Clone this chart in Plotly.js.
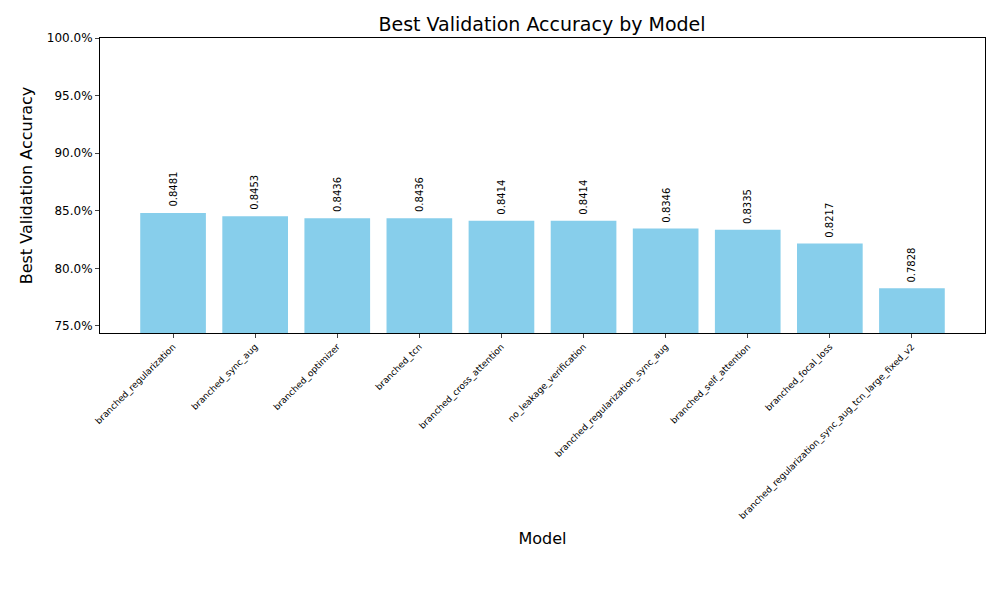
<!DOCTYPE html>
<html>
<head>
<script src="https://cdn.plot.ly/plotly-3.0.1.min.js"></script>
<style>body{margin:0}</style>
</head>
<body>
<div id="chart" style="width:1000px;height:600px"></div>
<script>
const models = ['branched_regularization', 'branched_sync_aug', 'branched_optimizer', 'branched_tcn',
  'branched_cross_attention', 'no_leakage_verification', 'branched_regularization_sync_aug',
  'branched_self_attention', 'branched_focal_loss', 'branched_regularization_sync_aug_tcn_large_fixed_v2'];
const accuracy = [0.8481, 0.8453, 0.8436, 0.8436, 0.8414, 0.8414, 0.8346, 0.8335, 0.8217, 0.7828];
const yTicks = [0.75, 0.80, 0.85, 0.90, 0.95, 1.00];

const xs = models.map((m, i) => i);
const font = {family: 'DejaVu Sans, sans-serif', color: '#000'};

const annotations = accuracy.map((v, i) => ({
  x: i, y: v, text: v.toFixed(4), showarrow: false, textangle: -90,
  yanchor: 'bottom', yshift: 4, font: {family: font.family, size: 10, color: '#000'}
}));

Plotly.newPlot('chart', [{
  type: 'bar', x: xs, y: accuracy, marker: {color: '#87ceeb'}, hoverinfo: 'x+y'
}], {
  width: 1000, height: 600,
  margin: {l: 100, r: 15, t: 38, b: 267},
  font: font,
  plot_bgcolor: '#fff', paper_bgcolor: '#fff',
  bargap: 0.2, showlegend: false,
  title: {text: 'Best Validation Accuracy by Model', font: {size: 19}, x: 0.542, xanchor: 'center', y: 0.96, yanchor: 'middle'},
  xaxis: {
    title: {text: 'Model', font: {size: 16}, standoff: 12},
    tickmode: 'array', tickvals: xs, ticktext: models, tickangle: -45,
    tickfont: {size: 9}, range: [-0.89, 9.89],
    showline: true, mirror: true, linecolor: '#000', ticks: 'outside', ticklen: 4, showgrid: false
  },
  yaxis: {
    title: {text: 'Best Validation Accuracy', font: {size: 16}, standoff: 10},
    range: [0.7439, 1.0], tickvals: yTicks, tickformat: '.1%', tickfont: {size: 12},
    showline: true, mirror: true, linecolor: '#000', ticks: 'outside', ticklen: 4,
    showgrid: false, zeroline: false
  },
  annotations: annotations
}, {displayModeBar: false});
</script>
</body>
</html>
